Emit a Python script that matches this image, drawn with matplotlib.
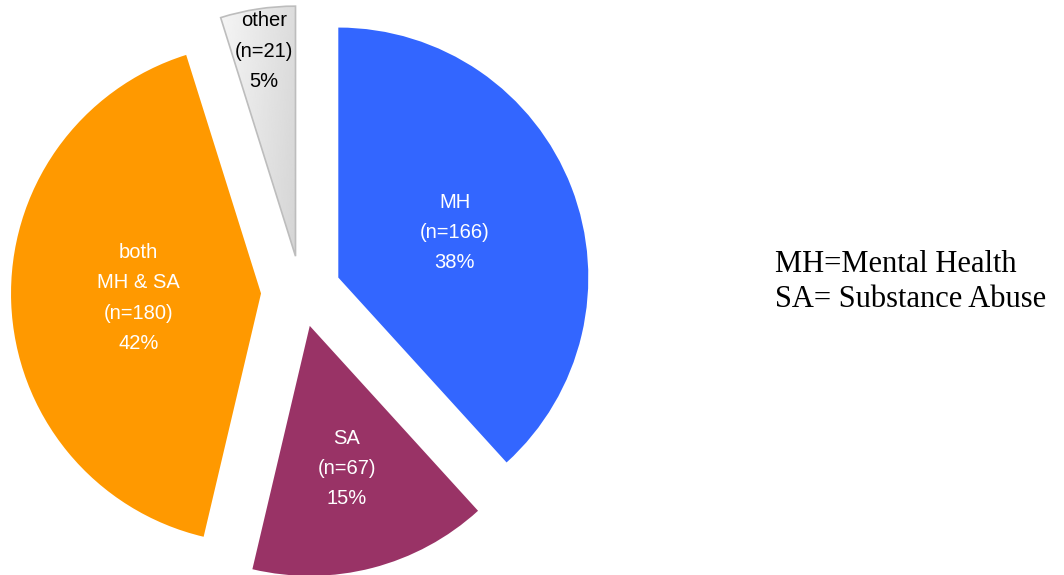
import numpy as np
import matplotlib.pyplot as plt
from matplotlib.patches import Wedge

# donnees du camembert
categories = ["MH", "SA", "both\nMH & SA", "other"]
counts = [166, 67, 180, 21]
pcts = ["38%", "15%", "42%", "5%"]
colors = ["#3366FF", "#993366", "#FF9900", "#E6E6E6"]
text_colors = ["white", "white", "white", "black"]
explode = [0.16, 0.14, 0.16, 0.145]
label_dist = [0.5, 0.59, 0.49, 0.83]

W, H = 1064, 575
R = 250.0  # rayon en pixels
cx, cy = 301.0, 283.0  # centre (pixels depuis le bas)

fig = plt.figure(figsize=(W / 100, H / 100), dpi=100)
ax = fig.add_axes([0, 0, 620 / W, 1])

wedges, _ = ax.pie(counts, colors=colors, startangle=90, counterclock=False,
                   explode=explode, radius=1, normalize=True,
                   wedgeprops=dict(linewidth=0))
ax.set_aspect("auto")
ax.set_xlim(-cx / R, (620 - cx) / R)
ax.set_ylim(-cy / R, (H - cy) / R)
ax.axis("off")

# contour et degrade pour "other"
w = wedges[3]
w.set_facecolor("#EDEDED")
grad = np.linspace(0, 1, 256)
gx, gy = np.meshgrid(grad, grad)
img = 0.97 - 0.16 * (gx * 0.8 + gy * 0.2)
im = ax.imshow(img, cmap="gray", vmin=0, vmax=1, extent=(-0.35, 0.05, 0.1, 1.2),
               origin="upper", zorder=w.get_zorder() + 0.1, aspect="auto")
im.set_clip_path(w)
edge = Wedge(w.center, w.r, w.theta1, w.theta2, facecolor="none",
             edgecolor="#BDBDBD", linewidth=1.2, zorder=w.get_zorder() + 0.2)
ax.add_patch(edge)

for i, wd in enumerate(wedges):
    ang = np.deg2rad((wd.theta1 + wd.theta2) / 2)
    x0, y0 = wd.center
    d = label_dist[i]
    txt = "%s\n(n=%d)\n%s" % (categories[i], counts[i], pcts[i])
    ax.text(x0 + d * np.cos(ang), y0 + d * np.sin(ang), txt, ha="center", va="center",
            color=text_colors[i], fontsize=14.5, family="Liberation Sans",
            linespacing=1.75, zorder=10)

fig.text(775 / W, 1 - 282 / H, "MH=Mental Health\nSA= Substance Abuse", ha="left",
         va="center", fontsize=22, family="Liberation Serif", linespacing=1.3)

fig.savefig("out.png", dpi=100)
